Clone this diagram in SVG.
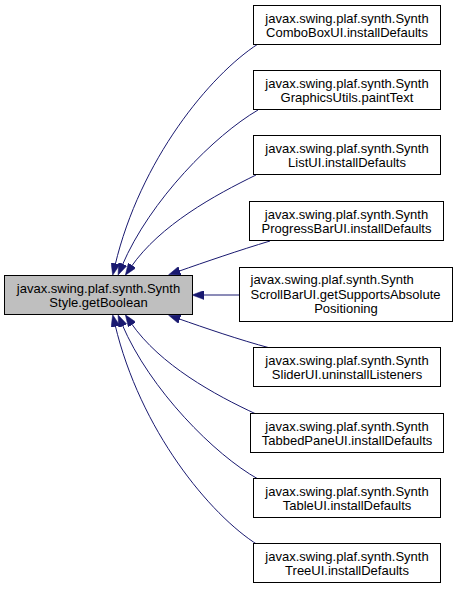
<svg xmlns="http://www.w3.org/2000/svg" width="457" height="591" viewBox="0 0 457 591">
<defs>
<marker id="ah" viewBox="0 0 12 9" refX="2" refY="4.5" markerWidth="12" markerHeight="9" markerUnits="userSpaceOnUse" orient="auto">
<path d="M0,0 L12,4.5 L0,9 z" fill="#191970" stroke="#191970" stroke-width="0.5"/>
</marker>
</defs>
<style>
.n rect{fill:#fff;stroke:#000;stroke-width:1}
.m rect{fill:#bfbfbf;stroke:#000;stroke-width:1}
text{font-family:"Liberation Sans",Arial,sans-serif;font-size:13px;fill:#000;text-anchor:middle}
.e path{fill:none;stroke:#191970;stroke-width:1;marker-end:url(#ah)}
</style>
<g id="edges" class="e">
<path d="M258,44 C210,75 140,160 115,265.5"/>
<path d="M258,110 C215,135 150,200 122,265.8"/>
<path d="M256,175 C215,195 160,225 131,267"/>
<path d="M270,241 C240,250 205,262 178,271.5"/>
<path d="M239,295 L202,295"/>
<path d="M270,348 C240,340 205,328 178,318.5"/>
<path d="M256,414 C215,395 160,365 131,323"/>
<path d="M258,479 C215,455 150,390 122,324.2"/>
<path d="M258,545 C210,515 140,430 115,324.5"/>
</g>
<g id="main" class="m">
<rect x="4.5" y="275.5" width="188" height="39"/>
<text x="98.5" y="293">javax.swing.plaf.synth.Synth</text>
<text x="98.5" y="307">Style.getBoolean</text>
</g>
<g id="n1" class="n">
<rect x="253.5" y="5.5" width="187" height="39"/>
<text x="347" y="23">javax.swing.plaf.synth.Synth</text>
<text x="347" y="37">ComboBoxUI.installDefaults</text>
</g>
<g id="n2" class="n">
<rect x="253.5" y="70.5" width="187" height="39"/>
<text x="347" y="88">javax.swing.plaf.synth.Synth</text>
<text x="347" y="102">GraphicsUtils.paintText</text>
</g>
<g id="n3" class="n">
<rect x="253.5" y="135.5" width="187" height="39"/>
<text x="347" y="153">javax.swing.plaf.synth.Synth</text>
<text x="347" y="167">ListUI.installDefaults</text>
</g>
<g id="n4" class="n">
<rect x="249.5" y="201.5" width="194" height="39"/>
<text x="346.5" y="219">javax.swing.plaf.synth.Synth</text>
<text x="346.5" y="233">ProgressBarUI.installDefaults</text>
</g>
<g id="n5" class="n">
<rect x="239.5" y="267.5" width="213" height="54"/>
<text x="250.5" y="284" style="text-anchor:start">javax.swing.plaf.synth.Synth</text>
<text x="250.5" y="298.5" style="text-anchor:start">ScrollBarUI.getSupportsAbsolute</text>
<text x="346" y="313">Positioning</text>
</g>
<g id="n6" class="n">
<rect x="253.5" y="347.5" width="187" height="39"/>
<text x="347" y="365">javax.swing.plaf.synth.Synth</text>
<text x="347" y="379">SliderUI.uninstallListeners</text>
</g>
<g id="n7" class="n">
<rect x="250.5" y="413.5" width="193" height="39"/>
<text x="347" y="431">javax.swing.plaf.synth.Synth</text>
<text x="347" y="445">TabbedPaneUI.installDefaults</text>
</g>
<g id="n8" class="n">
<rect x="253.5" y="478.5" width="187" height="39"/>
<text x="347" y="496">javax.swing.plaf.synth.Synth</text>
<text x="347" y="510">TableUI.installDefaults</text>
</g>
<g id="n9" class="n">
<rect x="253.5" y="543.5" width="187" height="39"/>
<text x="347" y="561">javax.swing.plaf.synth.Synth</text>
<text x="347" y="575">TreeUI.installDefaults</text>
</g>
</svg>
